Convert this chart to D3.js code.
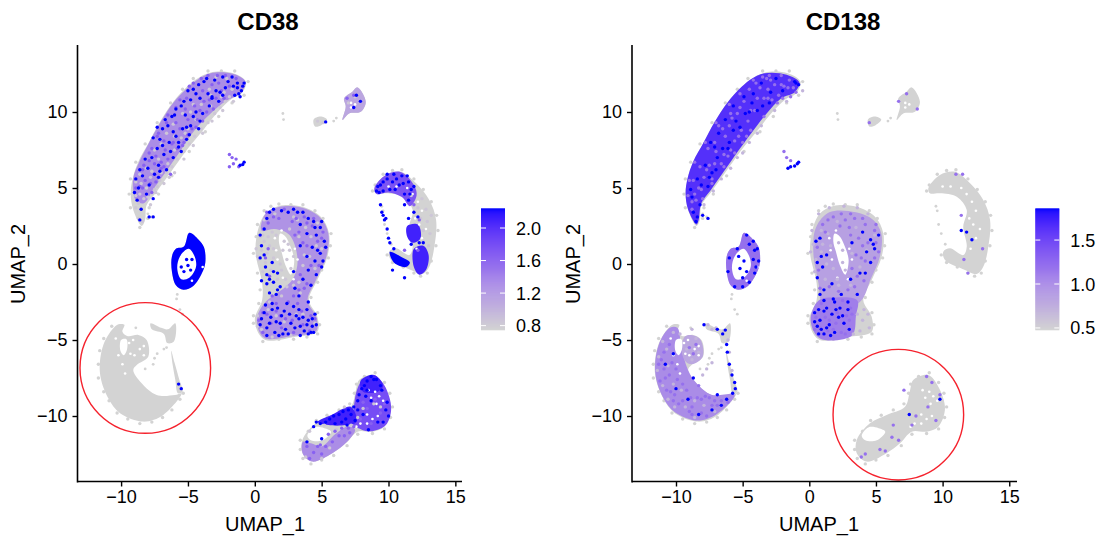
<html>
<head>
<meta charset="utf-8">
<title>CD38 / CD138</title>
<script src="https://cdn.jsdelivr.net/npm/d3@7"></script>
<style>
  body { margin: 0; background: #fff; }
  svg text { font-family: "Liberation Sans", Arial, sans-serif; fill: #000; }
  .marks { filter: blur(0.4px); }
</style>
</head>
<body>
<svg id="chart" width="1100" height="536"></svg>
<script>
// values. the outlines stand for the dense mass of cells,
// the dot lists are a hand read sample of the visible speckle, not every cell
const xTicks = [-10, -5, 0, 5, 10, 15];
const yTicks = [-10, -5, 0, 5, 10];
const cd38Ticks = [0.8, 1.2, 1.6, 2.0];
const cd138Ticks = [0.5, 1.0, 1.5];
const cd38Range = [0.75, 2.23];
const cd138Range = [0.48, 1.85];

// cluster shapes (UMAP_1, UMAP_2)
const crescent = [[-8.46,2.5],[-9.09,3.55],[-9.28,4.65],[-9.13,5.64],[-8.71,6.73],[-7.96,7.94],[-7.09,9.36],[-6.09,10.68],[-4.47,12.1],[-3.35,12.59],[-1.61,12.55],[-0.66,11.99],[-0.98,11.23],[-1.85,10.79],[-2.85,9.91],[-3.85,8.82],[-5.09,7.5],[-6.34,5.97],[-7.34,4.76],[-8.09,3.88],[-8.21,2.89]];
const ring = [[-4.9,2.05],[-4.2,1.6],[-3.8,1.1],[-3.7,0.1],[-3.95,-0.6],[-4.6,-1.45],[-5.35,-1.7],[-5.9,-1.4],[-6.2,-0.5],[-6.2,0.5],[-5.9,1.0],[-5.3,1.15]];
const central = [[1.8,3.82],[3.55,3.77],[4.93,3.11],[5.55,2.02],[5.43,0.48],[4.68,-1.05],[4.05,-2.37],[4.68,-3.47],[4.68,-4.45],[3.05,-4.78],[0.68,-4.95],[0,-3.68],[0.55,-2.37],[0.55,-1.27],[0.05,0.81],[0.3,2.45],[0.8,3.33]];
const arc = [[8.93,4.98],[9.8,5.86],[10.93,6.07],[12.06,5.31],[13.05,4.21],[13.56,2.89],[13.43,1.14],[13.05,-0.18],[12.56,-0.66],[11.68,-0.39],[10.18,0.26],[10.05,0.81],[10.55,1.03],[11.55,0.59],[11.81,1.14],[11.55,2.45],[11.81,3.55],[11.06,4.43],[9.8,4.65],[9.05,4.65]];
const lowerLeft = [[-10.46,-4.12],[-11.33,-5.33],[-11.58,-7.19],[-10.96,-8.84],[-10.08,-9.82],[-8.34,-10.37],[-6.84,-9.93],[-5.47,-8.51],[-5.97,-8.62],[-7.34,-8.62],[-8.46,-7.85],[-9.09,-6.97],[-8.83,-6.64],[-7.97,-6.1],[-8.09,-5],[-8.71,-4.67],[-9.5,-4.75],[-9.9,-4.45],[-9.75,-4],[-10.1,-3.95]];
const lowerLeftTop = [[-7.8,-3.9],[-7,-4.2],[-6.5,-4.3],[-5.95,-3.9],[-6.05,-5.1],[-6.55,-5.2],[-6.8,-4.6],[-7.7,-4.3]];
const lowerLeftRim = [[-6.25,-5.7],[-6,-6.5],[-5.65,-7.6],[-5.4,-8.4],[-5.75,-8.5],[-5.95,-7.6],[-6.15,-6.6]];
const bottomBlob = [[8.93,-7.3],[9.68,-8.07],[10.18,-9.49],[9.68,-10.7],[8.8,-11.03],[7.68,-11.03],[6.8,-11.8],[5.8,-12.45],[4.3,-13],[3.56,-12.45],[3.56,-11.58],[4.55,-10.48],[5.8,-9.93],[7.18,-9.39],[7.55,-8.34],[7.8,-7.63]];
const topBlob = [[7.68,11.62],[8.3,10.68],[7.93,10.02],[7.05,9.9],[6.56,9.47],[6.8,10.35],[6.68,10.9],[7.3,11.34]];
const topSmall = [[4.4,9.5],[4.9,9.7],[5.4,9.5],[5,9.15],[4.5,9.05]];
const clusterShapes = [crescent, ring, central, arc, lowerLeft, lowerLeftTop, lowerLeftRim, bottomBlob, topBlob, topSmall];

// gaps inside clusters
const ringHole = [[-4.95,1],[-4.5,0.5],[-4.4,-0.2],[-4.9,-0.9],[-5.5,-1],[-5.8,-0.3],[-5.6,0.5]];
const centralHole = [[1.9,2],[2.3,1.8],[2.55,1.4],[2.95,0.26],[2.7,-0.7],[2.3,-0.1],[2,0.8],[1.8,1.5]];
const bottomHole = [[3.93,-11.3],[4.43,-10.75],[5.2,-10.8],[5.7,-11.03],[5.06,-11.6],[4.2,-11.6]];
const lowerLeftGap = [[-10,-5],[-9.6,-4.95],[-9.55,-5.6],[-9.8,-6],[-10.05,-5.7]];
const holes = [ringHole, centralHole, bottomHole, lowerLeftGap];

// white flecks in the dense parts, both panels
const gaps = [[8.5,-8.3],[9,-8.4],[9.3,-8.7],[8.7,-8.8],[9.1,-9.2],[8.4,-9.9],[8.8,-10.2],[7.9,-10.5],[8.4,-10.5],[7.6,-10.7],[9.2,-10],[9.6,-9],
 [11.8,4.6],[12.2,4.1],[12.5,3.5],[12.3,2.6],[12.8,2.3],[12.5,1.7],[12.1,1],[12,3],[11.4,5],[10.6,5.1],[10,5.1],
 [-9.4,-5.2],[-9.1,-5],[-9,-6],[-9.3,-5.9],[-8.6,-5.6],[-9.7,-7.2],[-9.9,-6.6],[-10.2,-6],[-10.4,-4.9],[-8.3,-5.4],[-8.3,-6],
 [2.1,-0.9],[1.6,0.9],[1.5,1.7],[2,2.2],[1.7,0.3],[3.2,0.3],[3,1],[2.9,-1],[7.2,10.6],[7.5,10.5],[7.2,10.3],[-4.7,-1.1],[-3.9,-0.2]];

// rough fringe of pale cells just outside the outlines, both panels
const edgeCells = [[-8,3],[-8.6,2.4],[-9.3,3.7],[-9.4,4.6],[-9.3,5.6],[-8.9,6.7],[-8.2,7.9],[-7.3,9.3],[-6.3,10.6],[-5.4,11.5],[-4.6,12.2],[-3.5,12.7],[-2.5,12.7],[-1.5,12.7],[-0.5,12],[-0.8,11.1],[-1.7,10.6],[-2.7,9.7],[-3.7,8.7],[-4.9,7.4],[-6.2,5.8],[-7.2,4.6],[-7.9,3.7],
 [1.8,3.95],[2.7,3.9],[3.6,3.9],[4.5,3.5],[5.1,3],[5.7,2],[5.65,1.2],[5.5,0.4],[5,-0.4],[4.7,-1.2],[4.2,-2.2],[4.7,-3.2],[4.85,-4],[4.7,-4.6],[3.9,-4.8],[2.9,-4.95],[1.8,-4.95],[0.6,-5.1],[-0.1,-3.9],[-0.1,-3.4],[0.3,-2.6],[0.4,-1.7],[0.2,-0.6],[-0.1,0.7],[0.1,1.8],[0.2,2.6],[0.7,3.5],[1.2,3.8],
 [9,5.2],[9.6,5.9],[10.3,6.15],[11,6.2],[11.9,5.6],[12.6,4.9],[13.2,4.1],[13.6,3.2],[13.7,2.2],[13.55,1.2],[13.2,0.2],[12.9,-0.6],[12.4,-0.8],[11.9,-0.6],[11.1,-0.2],[10.3,0.1],[9.9,0.6],[8.8,4.8],
 [-10.7,-4.1],[-11.3,-4.9],[-11.6,-5.7],[-11.7,-6.6],[-11.7,-7.5],[-11.3,-8.4],[-10.9,-9],[-10.3,-9.8],[-9.5,-10.2],[-8.6,-10.5],[-7.7,-10.4],[-6.9,-10.1],[-6.2,-9.6],[-5.6,-8.9],[-5.35,-8.5],
 [9,-7.15],[9.7,-7.8],[10.1,-8.5],[10.3,-9.4],[10.15,-10.1],[9.7,-10.85],[8.8,-11.15],[7.7,-11.2],[6.9,-11.95],[5.9,-12.6],[5,-12.9],[4.2,-13.15],[3.6,-12.8],[3.4,-12.2],[3.4,-11.6],[4,-11],[4.6,-10.3],[5.4,-9.95],[6.3,-9.6],[7.1,-9.2],[7.45,-8.5],[7.6,-7.9],[8.2,-7.4]];

// tinted parts of the clusters, one value per shape
const cd38TintValues = [1.3, 2.23, 1.25, 1.75, 2.1, 2.23, 2.1, 1.8, 2.1, 2.1, 1.3, 1.1];
const cd38TintShapes = [
  [[-8.9,4.2],[-9.1,5.6],[-8.6,6.8],[-7.9,8],[-7,9.4],[-6,10.7],[-4.4,12.05],[-3.3,12.55],[-1.6,12.5],[-0.7,12],[-1,11.3],[-2.2,10.7],[-3.3,9.9],[-4.5,8.8],[-5.6,7.4],[-6.7,6],[-7.6,4.9],[-8.3,4]],
  ring,
  [[1.8,3.75],[3.55,3.7],[4.9,3.05],[5.5,2],[5.35,0.48],[4.6,-1],[3.95,-2.4],[4.6,-3.5],[4.6,-4.4],[3,-4.7],[0.7,-4.85],[0.15,-3.7],[0.7,-2.6],[2.3,-1.5],[2.9,-0.9],[3.2,0.3],[2.6,1.9],[1.5,2.3],[0.5,2.2],[0.8,3.3]],
  [[8.95,5],[9.8,5.85],[10.9,6.05],[11.9,5.2],[12.1,4.5],[11.6,3.8],[11,4.4],[10,4.7],[9.1,4.6]],
  [[11.9,1],[12.6,1.2],[13,0.6],[12.8,-0.4],[12.3,-0.7],[11.9,-0.2]],
  [[10.1,0.8],[10.9,0.5],[11.6,0.1],[11.3,-0.2],[10.4,0.1]],
  [[11.4,2.5],[12.2,2.6],[12.4,1.7],[11.8,1.4],[11.4,1.8]],
  [[8,-7.7],[8.9,-7.3],[9.7,-8],[10.2,-9.5],[9.8,-10.6],[8.8,-11],[8,-10.9],[7.3,-10.5],[7.4,-9.5],[7.6,-8.4]],
  [[7.9,-7.7],[8.9,-7.3],[9.6,-8],[9.2,-8.4],[8.1,-8.4]],
  [[4.7,-10.4],[5.8,-9.9],[7.2,-9.4],[7.6,-10.4],[6.8,-10.6],[5.5,-10.6]],
  [[3.6,-12.5],[4.3,-13],[5.8,-12.45],[6.9,-11.7],[7.5,-10.9],[6.9,-10.7],[6,-11.2],[5,-12],[4.2,-11.8],[3.6,-11.7]],
  topBlob
];
const cd138TintValues = [1.65, 1.2, 0.85, 1.1, 1.0, 0.8];
const cd138TintShapes = [
  [[-8.46,2.6],[-9.1,3.6],[-9.28,4.65],[-9.13,5.64],[-8.71,6.73],[-7.96,7.94],[-7.09,9.36],[-6.09,10.68],[-4.47,12.1],[-3.35,12.55],[-1.7,12.45],[-0.75,11.95],[-1.1,11.3],[-2.1,10.9],[-3.2,9.9],[-4.1,8.9],[-5.2,7.6],[-6.4,6.1],[-7.4,4.85],[-8.1,4],[-8.3,2.9]],
  ring,
  [[1.5,3.4],[3.5,3.4],[4.8,2.9],[5.4,2],[5.3,0.5],[4.6,-1],[3.9,-2.4],[2.6,-3],[1,-2.6],[0.7,-1.3],[0.3,0.8],[0.5,2.4]],
  [[0.7,-2.4],[2,-2.2],[3.6,-2.4],[3.5,-3.4],[3.2,-4.7],[0.8,-4.9],[0.1,-3.7]],
  [[-10.46,-4.2],[-11.3,-5.33],[-11.55,-7.19],[-10.96,-8.8],[-10.08,-9.75],[-8.34,-10.3],[-6.9,-9.85],[-5.6,-8.6],[-7.34,-8.6],[-8.46,-7.85],[-9.1,-6.97],[-9.6,-5.5],[-9.9,-4.2]],
  [[-9.3,-4.75],[-8.7,-4.7],[-8.15,-5],[-8,-6.1],[-8.8,-6.6],[-9.3,-6.4],[-9.6,-5.5]]
];

// expression levels used by the dot lists below, low to high
const cd38Levels = [0.85, 1.65, 2.23];
const cd138Levels = [0.7, 1.2, 1.85];

const cd38Low = [[-8.7,3],[-8.5,3.6],[-8.9,3.7],[-8.4,2.8],[-8.6,4.6],[-8,4.4],[-7.5,4.9],[-8.5,5.3],[-7.8,5.7],[-8.1,5],[-7.1,5.5],[-6.6,6],[-7.2,6.9],[-6.2,6.4],[-5.8,6.9],[-5.3,7.4],[-6,8.4],[-4.9,7.9],[-4.5,8.4],[-5.2,8.6],[-4,8.9],[-3.5,9.3],[-3.9,9.9],[-3,9.9],[-2.6,10.3],[-2.2,10.7],[-4.8,10],[-3.3,11.1],[-2.3,11.3],[-1.9,11],
 [-8.9,4.5],[-8.7,4],[-8.3,4.3],[-8.9,5.4],[-8.6,5.9],[-8.1,6.3],[-7.7,6.1],[-7.3,5.1],[-7,6],[-6.4,5.7],[-7.5,7.5],[-7,7.9],[-6.5,6.6],[-6,7.5],[-6.6,8.6],[-6.1,9.2],[-5.5,8.3],[-5,8.9],[-4.4,9.5],[-5.4,9.9],[-4.6,10.5],[-4,10.5],[-3.3,10.4],[-3.4,11.5],[-2.5,11],[-2.9,12.3],[-2.1,12.2],[-1.7,11.5],[-7.4,4.7],[-6.8,5.3],[-6,6],[-5.3,6.9],[-4.6,7.8],[-3.9,8.6],[-3.2,9.4],[-2.4,10.1],[-1.6,10.7],[-7.8,3.9],
 [0.4,1.8],[0.7,1.5],[1,1.8],[1.3,2.1],[0.5,0.9],[0.9,0.7],[1.4,1],[0.3,0.3],[0.8,0.1],[1.4,0.4],[1.2,-0.4],[0.6,-0.5],[1.7,-1],[1.9,0],[2.3,-1],[2.9,-1.4],[3.6,-0.1],[4.1,0.5],[2.6,2.3],[3.3,1.8],[4.6,1.2],[3.8,2.4],[1,-3],[1.6,-3.4],[3.1,-3.3],[0.5,-4.3],[2.7,-4.7],
 [0.1,1],[0.2,0.5],[0.6,1.9],[1.1,1.2],[1.6,1.9],[2.2,1.5],[2.6,0.9],[2.9,0.5],[2.4,0.3],[2.7,-0.3],[2.1,0.9],[2.5,1.3],[2,-0.4],[2.4,-1.5],[1.1,-2.5],[2,-2.1],[3.4,-1.9],[2.9,3.1],[4.2,1.8],[5,1],[4.5,-0.3],[3.7,0.6],[3.3,-1.2],[0.2,-3.4],[0.2,-4.1],[1.3,-4.8],[2.2,-3.8],[3.6,-3.3],[4.5,-3.9],[1.5,3.3],[0.7,2.9],[3.2,2.9],[4.7,2.7],
 [12.4,3],[12.9,2.8],[13.1,2],[12.5,4.3],[12.8,3.6],[13.2,3.2],[12.6,2.2],[13,1.2],[12.6,1.5],[12.2,3.7],[11.7,4.5],[4.7,9.4],[5.1,9.3],[7,10.6],[7.5,11],
 [6.7,-9.4],[7.2,-10.6],[6.1,-10.9],[5.2,-10.6],[4.1,-11],[3.8,-12.7],[5,-12.8],[5.6,-12.1],[8.9,-9.2],[9.4,-9.4],[8.1,-9.5],[7.7,-10.1]];
const cd38Mid = [[-8.6,5.1],[-7.9,6.8],[-6.8,8.1],[-5.9,9.3],[-5.1,10.9],[-4.1,10.1],[-3.2,11.8],[-2.3,10.9],[-6.5,6.9],[-5.6,8.9],[-4.7,8.9],[-3.6,10],[-7.4,7.1],[-8.2,5.5],[-7.7,4.7],[-6.2,7.9],[-5,9.5],[-3.9,11.4],[-2.7,11.9],[-6.8,6.4],[-1.9,7.2],[-1.7,7],[-1.6,6.6],[-1.9,6.4],[-1.2,6.4],[-1.4,6.9],
 [-8.3,6.5],[-7.7,7.6],[-7.2,8.6],[-6.5,9.8],[-5.6,10.8],[-4.6,11.9],[-3.5,12.4],[-2.2,12.4],[-1.4,12.2],[-1.9,11.7],[-2.9,10.9],[-3.8,10.7],[-4.5,10.4],[-5.2,10.2],[-3.1,10.2],[-3.9,9.4],[-4.4,9],[-5.3,8],[-5.8,7.6],[-6.7,7.5],[-7,6.3],[-7.5,6.6],[-8.4,5],[-7.4,5.4],[-6.3,5.9],[-5.4,7.8],
 [-8.9,5],[-8.4,6.2],[-7.9,7.3],[-7.3,8.4],[-6.6,9.3],[-5.9,10.3],[-4.9,11.7],[-4,12.2],[-2.8,12.4],[-6.1,8],[-5,8.5],[-4.3,9.5],[-3.4,10.8],[-2.5,11.4],[-7,6.7],[-7.8,5.3],
 [1,2.7],[1.8,3],[2.8,2.8],[3.7,3.1],[4.3,2.5],[5,1.7],[3.9,1.2],[4.2,-0.1],[3.4,-0.7],[2.9,-2.1],[1.6,-2.6],[3.2,-2.6],[1.2,-3.9],[2,-4.2],[2.8,-3.7],[3.6,-4],[4.2,-3.4],[0.6,-3.2],[1.9,-3.4],
 [0.9,3.4],[1.4,3.1],[2.2,3.6],[3.1,3],[3.9,2.7],[4.4,3],[5.1,2.1],[4.7,1.5],[3.3,2.1],[3.6,1.4],[4.8,-0.1],[3.9,-1.3],[3.3,-1.7],[2.5,-2.5],[1.3,-2.1],[2.3,-3.6],[2.9,-4.5],[3.5,-3.1],[4.1,-4.4],[0.6,-4.5],[1.6,-3.1],[0.3,-3.7],[0.9,-3.3],[4.5,-3.6],[1,1],[0.8,0.4],[1.1,-0.8],[3,1.9],[3.7,-1.6],
 [11.9,3.9],[12.3,2.9],[12.2,0.9],[11.2,0.9],[9,-8.9],[8.4,-9.5],[9.4,-9.8],[7.9,-10.2],[8.7,-10.5],[9.7,-9.2],[8.1,-9.1],[5.8,-11.7],[5,-12.5],[4.4,-12.4],[6.3,-11.3],[3.9,-12],[4.9,-11.9],[7.4,11.1],[6.9,10.9],[5.3,-12],[6.7,-11.3],[4.1,-12.8],[4.7,-12],[7.1,-11.1],[6,-11],[6.5,-10.8],[7,-10.8],[5.5,-11.2],[7.4,-10.7]];
const cd38Blue = [[-0.9,11.7],[-1,11.4],[-1.2,11.2],[-0.8,11.9],[-1.3,11.6],[-1.5,11.1],[-1.1,11],[-1.7,12.3],[-2.4,12.3],[-3,12.1],[-3.6,12.2],[-4.2,11.8],[-4.6,11.5],[-2.2,11.6],[-2.9,11.4],[-3.5,11.2],[-4.1,10.9],[-4.8,10.8],[-5.5,10.4],[-5.9,10.2],[-5.2,9.8],[-4.4,10],[-3.4,10.4],[-2.7,10.7],[-6.2,9.7],[-6.5,9.1],[-6.9,8.9],[-6.1,8.7],[-5.4,8.9],[-4.8,9.1],[-4.2,8.9],[-7.1,8.2],[-6.4,8],[-5.7,8],[-5.1,8.2],[-7.3,7.6],[-6.8,7.2],[-6.1,7],[-5.5,7.4],[-7.7,7],[-7.2,6.5],[-6.6,6.2],[-8,6.3],[-7.5,5.9],[-8.4,5.8],[-7.9,5.2],[-7.2,5.7],[-8.7,5],[-8.1,4.6],[-8.8,4.2],[-8.5,3.6],[-8.6,2.9],[-7.6,3.1],[-7.9,3.1],[-0.9,6.55],[-1.1,6.5],[-0.8,6.7],
 [-1.3,11.9],[-1.6,11.7],[-2,12],[-2.6,11.3],[-3.2,11],[-3.8,12],[-4.4,11.2],[-5,11.4],[-5.3,10.7],[-6,9.8],[-6.7,9.5],[-7.3,9],[-7.6,8.3],[-6.9,7.8],[-5.9,8.4],[-5.1,9],[-4.6,9.7],[-3.9,9.9],[-3.2,10.9],[-2.4,11.1],[-8.2,6.9],[-8.6,6.2],[-8.9,5.6],[-9,4.7],[-7.6,4.3],[-7.1,6.1],[-6.3,7.4],[-5.7,7.7],[-4.9,8.5],[-4.1,9.4],
 [0.5,-3.6],[0.9,-4.2],[1.2,-3.5],[1.5,-4.5],[1.9,-3.9],[2.3,-4.3],[2.6,-3.3],[3,-4.2],[3.3,-3.6],[3.7,-4.4],[4,-3.7],[4.3,-4.1],[4.5,-3.3],[3.9,-3],[1.7,-2.9],[2.9,-2.8],[0.8,-2.7],[2.2,-3.1],[0.9,-4.7],[2.1,-4.6],[3.4,-4.7],[4.4,-4.5],[0.9,-0.7],[1.4,-1.2],[1.1,-1.9],[1.6,-2],[0.8,-0.2],[1.9,-1.5],[1.3,0.1],[0.7,0.6],[0.5,-1.1],[1.7,-0.6],[4.9,2.4],[5.2,1.5],[4.6,1.9],[4,3],[3.2,3.4],[2.5,3.4],[1.4,3.6],[0.9,3],[0.4,1.9],[0.7,2.3],[4.9,0.7],[5.1,0.2],[4.5,0.2],[4.3,1.1],[3.9,2],[3.4,2.6],[4,-0.4],[4.6,-0.7],[3.6,-1],[3,-1.6],[2.9,-0.5],
 [0.4,-4],[0.7,-3.2],[1.1,-3.9],[1.3,-3],[1.6,-3.8],[1.8,-4.7],[2,-3.4],[2.5,-4.6],[2.7,-3.9],[3.1,-3.4],[3.4,-4.1],[3.6,-3.5],[3.9,-4],[4.2,-4.5],[4.3,-3.6],[4,-4.6],[4.6,-4],[2.4,-2.6],[1.3,-2.6],[3.3,-3],[4,-2.5],
 [1.1,3.4],[2,3.5],[2.9,3.6],[3.6,3.4],[4.4,2.8],[5,2.8],[5.3,1.1],[4.7,0.9],[5,-0.2],[3.9,0.5],[3.4,1.2],[4.5,2.4],[4.2,-1.4],[3.3,-2.1],[0.5,1.2],[0.4,0.4],[0.9,-1.3],[1.4,-0.5],[1.7,-1.7],[1.1,-1],
 [9.4,3.9],[9.6,3.2],[9.7,2.9],[10,1.7],[10.1,1.4],[9.9,2.3],[9.5,3.4],[9.8,3],[10.4,1],[11.2,3.9],[11.9,3.4],[12.2,3.1],[11.5,3],[12.3,1.4],[11.7,1.3],[12.6,1.4],[11.5,4.2],[10.3,-0.4],[11.2,-0.9],
 [9.1,4.8],[9.4,5.2],[9.9,5.6],[10.4,5.9],[11,5.8],[11.5,5.4],[10.3,5.4],[10.8,5.2],[9.6,4.8],[11.2,4.6],[11.7,4.9],[10.1,4.9],[9.2,5.1],[9.6,5.4],[9.9,5.9],[10.6,5.6],[11.1,5.3],[11.4,5.8],[11.9,5.1],[10.5,4.9],[9.3,4.7],[11.6,4.6],
 [8.9,-7.6],[9.5,-8.3],[8.2,-8],[8.7,-9],[9.8,-9.6],[8.1,-9.9],[7.7,-9.6],[9.2,-10.4],[7,-9.6],[6.3,-9.9],[5.6,-10.2],[4.9,-10.5],[4.4,-10.7],[6.8,-10.2],[3.9,-11.7],[5,-11.5],[7.6,11.1],[7.9,10.7],[7.4,10.3],[5.3,9.35],[-5.7,-7.9],[-5.5,-8.2],
 [8.4,-7.7],[8.7,-7.4],[9.1,-7.6],[9.4,-8],[8,-8.2],[8.4,-8.3],[7.8,-8.6],[7.7,-9],[8.3,-8.7],[9.9,-9.1],[10,-10],[9.6,-10.4],[8.5,-10.9],[7.5,-10.3],[7.2,-9.9],[6.6,-9.7],[5.9,-10],[5.3,-10.4],[4.6,-10.4],[7.4,-9.4],[6,-10.5],[6.5,-10.4],[6.9,-10.6],
 [-5.1,0.3],[-5,-0.1],[-4.7,0.3],[-5.3,-0.5],[-4.8,-0.4],[-5.5,-0.2]];

const cd138Low = [[-0.5,11.4],[-1.7,10.7],[-2.6,10.1],[-3.6,9.1],[-3.9,8.6],[-4.5,8],[-5,7.3],[-5.4,7],[-5.9,6.3],[-6.6,5.6],[-7.2,4.8],[-7.9,3.9],
 [1.5,3.7],[2.6,3.8],[3.6,3.7],[4.4,3.3],[0.7,3.3],[0.2,2.2],[0.1,0.8],[0.5,0.3],[0.9,0.8],[0.4,-0.5],[1.2,-1],[2.1,-1],[3.6,-3.3],[4,-3.7],[4.4,-3.3],[4.5,-4.2],[3.8,-4.4],[3.3,-4.6],[4.1,-3],
 [0.3,1.3],[1,1.3],[1.4,2],[1.6,1.2],[1.3,0],[1.8,-0.3],[2.2,-1.4],[2.5,0.9],[2.5,0.1],[2.2,1.4],[2.7,-0.4],[3.5,2.4],[4.3,0.9],[3.8,-0.2],[3.2,0.7],[4.9,1.9],[2.1,2.8],[0.9,2.2],[3.1,-1.4],
 [-7.6,-4],[-7.3,-4.3],[-7,-4.2],[-6.4,-4.4],[-6.1,-5],[-6,-5.8],[-5.8,-7],[-9.7,-4.6],[-8.8,-4.3],[-11,-5.1],[-7.3,-6.5],[-7.7,-6.9],[-8,-7.3],
 [-11.3,-6.1],[-11.4,-7],[-11,-8],[-10.6,-6.7],[-10.7,-5.6],[-10.2,-7.9],[-9.6,-8.3],[-9.3,-9.4],[-8.6,-9],[-7.9,-9.3],[-10.1,-9.4],[-10.6,-8.9],[-8.6,-10.1],[-7.1,-9.7],[-9.2,-5.6],[-8.5,-4.9],[-8.3,-5.8],[-8.8,-6.3],[-10.2,-4.5]];
const cd138Mid = [[-8.6,4.6],[-7.9,5.7],[-7,7.4],[-6.3,8.4],[-5.4,9.9],[-4.5,11.5],[-3.5,12.3],[-2.6,11.8],[-1.9,11.7],[-3.4,10.9],[-4.1,10.1],[-5.1,8.8],[-6.1,7.1],[-7.5,6.5],[-8.3,5],[-8.8,4.1],[-6.8,9.1],[-5.9,9.9],[-4.9,10.7],[-2.9,12.1],[-1.5,12.1],[-1.2,11.6],[-7.6,7.6],[-6.6,6.6],[-5.6,8.1],[-4.6,9.4],[-3.7,11.6],[-8.2,6.4],[-2.3,11.1],[-1.9,7.4],[-1.7,7],[-1.4,6.8],[-4.7,1.6],[-5.6,0.9],[-5.9,-0.8],[-3.9,0.4],
 [-4.2,12.1],[-3,12.4],[-2.1,12.4],[-5.2,11.2],[-6,10.5],[-7,9.3],[-7.8,8],[-8.6,6.7],[-9,5.5],[-9.1,4.5],[-8.8,3.6],[-4,11.9],[-3.1,11.5],[-2.4,10.6],[-2,10.9],[-3.4,9.7],[-4.4,8.8],[-5,8],[-5.6,7.3],[-6.4,6.4],[-7.3,5.3],[-8,4.3],[-1,11.3],[-1.4,11],
 [-8.1,4.9],[-8.7,5.5],[-8.5,4.2],[-7.7,6.2],[-7.1,6.6],[-6.4,7.2],[-7.1,8],[-6.5,8.9],[-6,9.1],[-5.8,9.6],[-5.2,10.3],[-4.4,10.1],[-3.9,10.9],[-3.1,10.9],[-2.8,10.8],[-2.1,11.8],[-1.6,11.6],[-3.2,12.2],[-4.7,8.4],[-5.3,8.4],[-5.9,7.5],[-7.3,5.6],
 [1,2.6],[1.8,3.1],[2.7,2.9],[3.4,3],[4.2,2.6],[4.9,2.2],[4.4,1.4],[3.7,1.7],[3.5,0.6],[4.2,0.2],[4.9,0.4],[3.6,-0.8],[2.9,-1.7],[1.2,-3.5],[2,-3.9],[2.8,-3.4],[0.8,-4.2],[2.4,-4.5],[3.1,-2.9],
 [1.2,2.1],[0.6,1.1],[2.3,2.5],[3,2.4],[4,1.2],[5,1.4],[3.2,-0.3],[4.1,-1.1],[3.4,-1.5],[2.2,-1.8],[1.5,-1.5],[0.8,-1.6],[1.5,-3.7],[2.1,-3.2],[3,-3.7],[2.7,-4.6],[1.4,-4.4],[0.4,-4.3],
 [1.4,2.9],[2.4,3.3],[3.1,3.3],[4,3],[5,2.6],[5.2,0.8],[3.9,0.4],[3.1,1.9],[0.7,-0.4],[2.5,-2.4],[3.2,-3.3],[1.8,-4.3],[0.5,-3.5],[0.9,-2.6],
 [-11.1,-6.3],[-10.8,-7.5],[-10.4,-8.4],[-9.8,-9.2],[-9,-9.7],[-8.1,-9.8],[-7.3,-9.3],[-6.6,-9],[-10.5,-5.3],[-10.3,-6.5],[-9.9,-7.6],[-9.2,-8.3],[-8.4,-8.8],[-7.5,-8.8],[-9,-5.5],[-8.7,-5.9],[-8.5,-5.3],[-6.1,-9.1],
 [-10.9,-5.8],[-11.3,-6.6],[-10.7,-8.3],[-10.2,-9],[-9.5,-9],[-8.9,-8.8],[-8.1,-8.9],[-7.7,-10],[-9.5,-7.9],[-10,-6.9],[-10.5,-7.3],[-6.9,-9.3],[-11.2,-7.7],[-10.9,-6.9],[-10.1,-8.6],[-8.8,-9.4],[-7.8,-8.7],[-8.8,-9.9],[-7.1,-9],
 [7.3,11.2],[6.7,10.7],[8.1,10.2],[4.5,9.3],[11,5.9],[11.5,5.9],[11.4,3.2],[13,1],[11.6,0.3],[11.9,-0.6],[7.1,-8.3],[9.8,-8.6],[8.8,-7.4],[9.2,-7.8],[8,-10],[7.7,-10.6],[6.2,-11.4],[5.3,-12.2],[4.2,-12.5],[3.9,-12.7],[5.7,-12.3],[6.7,-11.6],[6.3,-10.6],[9.5,-10.3],[8.9,-9.4],[-8.3,-8]];
const cd138Blue = [[-8.5,2.8],[-8.4,3.1],[-8.7,3.4],[-8,3.2],[-7.6,3],[-8.2,3.9],[-8.9,4.9],[-8.4,5.6],[-7.6,5.1],[-7.3,6],[-7.8,6.5],[-6.9,7],[-7.4,8],[-6.5,7.6],[-6,8],[-6.8,8.6],[-5.7,8.8],[-6.3,9.5],[-5.5,9.4],[-4.8,9.9],[-5.7,10.4],[-4.9,11],[-4.2,11.2],[-4.3,10.6],[-3.5,10.4],[-3.6,11.9],[-2.9,11.3],[-2.5,12.2],[-2,11.4],[-1,11.9],[-0.8,11.8],[-1.1,12],
 [-8.1,5.2],[-7.5,5.7],[-7,6.2],[-6.1,7.6],[-5.2,9],[-4.5,10],[-3.9,10.1],[-3,10.6],[-7.1,7.7],[-8.8,4.4],
 [-1.1,6.45],[-0.9,6.6],[-1.4,6.4],[-1.6,6.3],[-0.8,6.7],
 [-4.7,1.9],[-4.2,1.5],[-3.9,1],[-3.8,0.2],[-4.1,-0.6],[-4.5,-1.2],[-5,-1.5],[-5.6,-1.5],[-6.1,-0.5],[-6,0.4],[-5.4,1],[-4.9,0.2],[-5.2,-0.3],[-5.3,0.5],[-4.7,-0.5],[-5,-0.9],[-4.5,1.3],[-4.1,0.9],[-4.2,0.3],[-4,-0.2],
 [0.8,1.7],[0.5,1.5],[0.6,0.1],[1,-0.2],[0.6,-0.9],[1.3,0.6],[1.7,-1.3],[1.1,-1.7],[4.8,1.3],[4.9,1],[4.3,0.8],[4.6,0.1],[4.2,-0.6],[5.2,1.9],[3.2,1.4],[4,2.1],[3.1,-1],[3.6,-2],[2.4,-2],[1.8,-2.3],[1.1,-2.4],[0.7,-3],[1.1,-3.1],[1.7,-3.3],[2.3,-2.9],[2.9,-2.5],[0.4,-3.8],[0.8,-3.7],[1.5,-4],[1.9,-4.5],[2.6,-3.9],[3,-4.3],[1.1,-4.6],[0.7,-4.6],[2.2,-3.5],
 [0.4,-3.2],[1.3,-4.2],[1.6,-4.7],[2,-3],[2.5,-3.4],[0.9,-4.3],[1.3,-2.9],[2.9,-3],[0.6,-4.1],[1.9,-2.5],[4.6,1.6],[3.8,-0.6],[0.9,0.5],[0.8,-2],
 [-7.9,-4],[-6.9,-4.3],[-6.5,-4.6],[-6.3,-4.35],[-6.2,-5.3],[-6.15,-5.8],[-6,-6.6],[-5.8,-7.3],[-5.6,-7.8],[-5.55,-8.2],[-5.75,-8.5],[-6.2,-8.9],[-6.6,-9.3],[-7.3,-9.6],[-8.3,-9.9],[-9.1,-8.9],[-10.8,-6.6],[-10.2,-5.9],[-6.9,-8.6],[-8.7,-7.5],[-10,-8.2],
 [11.4,2.2],[11.8,2.1],[12.2,1.6],[9.8,-8.9],[7.5,-9.9]];

const cd38Dots = [cd38Low, cd38Mid, cd38Blue];
const cd138Dots = [cd138Low, cd138Mid, cd138Blue];
// stray cells shared by both panels
const strayDots = [[2.1,9.9],[2.15,9.5],[5.9,9.4],[6.1,9.6],[-5.8,-2],[-5.85,-2.3],[-5.6,-3],[-5.4,-3.3],[9.6,3.5],[9.7,2.6],[9.9,2],[10.2,1.3],[9.5,3.8],[-8.9,-4.2],[-7.3,-5.9],[-6.8,-5.6],[-7.5,-6.2],[-6.6,-5.5],[-8.2,-6.9],[-7.6,-6.6],[-8,3.3],[-7.7,3.1]];

const svg = d3.select('#chart');
const shape = d3.line().curve(d3.curveCatmullRomClosed.alpha(0.5));

function drawPanel(p) {
  const x = d3.scaleLinear().domain([-10, 15]).range([p.x0 - 10 * p.k, p.x0 + 15 * p.k]);
  const y = d3.scaleLinear().domain([-10, 10]).range([416, 112]);
  const colour = d3.scaleLinear().domain(p.range).range(['lightgrey', 'blue']).interpolate(d3.interpolateLab).clamp(true);
  const path = pts => shape(pts.map(d => [x(d[0]), y(d[1])]));
  const g = svg.append('g');
  const marks = g.append('g').attr('class', 'marks');

  marks.selectAll('.edge').data(edgeCells).join('circle').attr('class', 'edge')
    .attr('cx', d => x(d[0])).attr('cy', d => y(d[1])).attr('r', 1.7).attr('fill', 'lightgrey');
  marks.selectAll('.cluster').data(clusterShapes).join('path').attr('class', 'cluster')
    .attr('d', path).attr('fill', 'lightgrey');
  marks.selectAll('.tint').data(p.tints).join('path').attr('class', 'tint')
    .attr('d', path).attr('fill', (d, i) => colour(p.tintValues[i]));
  marks.selectAll('.hole').data(holes).join('path').attr('class', 'hole')
    .attr('d', path).attr('fill', '#fff');
  marks.selectAll('.gap').data(gaps).join('circle').attr('class', 'gap')
    .attr('cx', d => x(d[0])).attr('cy', d => y(d[1])).attr('r', 1.3).attr('fill', '#fff');
  marks.selectAll('.stray').data(strayDots).join('circle').attr('class', 'stray')
    .attr('cx', d => x(d[0])).attr('cy', d => y(d[1])).attr('r', 1.4).attr('fill', 'lightgrey');
  p.dots.forEach((list, i) => {
    marks.selectAll('.lvl' + i).data(list).join('circle').attr('class', 'lvl' + i)
      .attr('cx', d => x(d[0])).attr('cy', d => y(d[1])).attr('r', 1.7)
      .attr('fill', colour(p.levels[i]));
  });

  // red annotation circle
  g.append('circle').attr('cx', x(p.circle[0])).attr('cy', y(p.circle[1])).attr('r', 65.3)
    .attr('fill', 'none').attr('stroke', '#f5222d').attr('stroke-width', 1.4);

  // axes, cowplot look
  const axX = d3.axisBottom(x).tickValues(xTicks).tickSize(5).tickPadding(4).tickSizeOuter(0);
  const axY = d3.axisLeft(y).tickValues(yTicks).tickSize(5).tickPadding(5).tickSizeOuter(0);
  const gx = g.append('g').attr('transform', 'translate(0,481.5)').call(axX);
  const gy = g.append('g').attr('transform', 'translate(' + p.left + ',0)').call(axY);
  gx.select('.domain').attr('d', 'M' + p.left + ',0H' + p.right);
  gy.select('.domain').attr('d', 'M0,45V482.5');
  [gx, gy].forEach(a => {
    a.selectAll('.domain').attr('stroke', '#000').attr('stroke-width', 1.6);
    a.selectAll('.tick line').attr('stroke', '#000').attr('stroke-width', 1.4);
    a.selectAll('text').style('font-size', '18px').style('font-family', '"Liberation Sans", Arial, sans-serif');
  });

  g.append('text').attr('x', p.titleX).attr('y', 30).attr('text-anchor', 'middle')
    .style('font-size', '24px').style('font-weight', 'bold').text(p.title);
  g.append('text').attr('x', p.xLabelX).attr('y', 531).attr('text-anchor', 'middle')
    .style('font-size', '20px').text('UMAP_1');
  g.append('text').attr('transform', 'translate(' + p.yLabelX + ',264) rotate(-90)').attr('text-anchor', 'middle')
    .style('font-size', '20px').text('UMAP_2');

  // colour bar
  const bar = d3.scaleLinear().domain(p.range).range([329.7, 209.3]);
  const steps = d3.range(0, 120).map(i => p.range[0] + (p.range[1] - p.range[0]) * i / 119);
  g.selectAll('.bar').data(steps).join('rect').attr('class', 'bar')
    .attr('x', p.barX).attr('width', 24).attr('y', d => bar(d) - 1).attr('height', 1.6)
    .attr('fill', d => colour(d));
  p.ticks.forEach(t => {
    g.append('line').attr('x1', p.barX).attr('x2', p.barX + 5).attr('y1', bar(t)).attr('y2', bar(t)).attr('stroke', '#fff');
    g.append('line').attr('x1', p.barX + 19).attr('x2', p.barX + 24).attr('y1', bar(t)).attr('y2', bar(t)).attr('stroke', '#fff');
    g.append('text').attr('x', p.barX + 35).attr('y', bar(t) + 6.5).style('font-size', '18px').text(d3.format('.1f')(t));
  });
}

drawPanel({ title: 'CD38', x0: 254.8, k: 13.37, left: 77.5, right: 462, titleX: 268, xLabelX: 265, yLabelX: 25,
  barX: 481, range: cd38Range, ticks: cd38Ticks, tints: cd38TintShapes, tintValues: cd38TintValues,
  dots: cd38Dots, levels: cd38Levels, circle: [-8.19, -6.84] });
drawPanel({ title: 'CD138', x0: 809.3, k: 13.33, left: 632, right: 1017, titleX: 843, xLabelX: 819, yLabelX: 580,
  barX: 1035.3, range: cd138Range, ticks: cd138Ticks, tints: cd138TintShapes, tintValues: cd138TintValues,
  dots: cd138Dots, levels: cd138Levels, circle: [6.68, -9.91] });
</script>
</body>
</html>
